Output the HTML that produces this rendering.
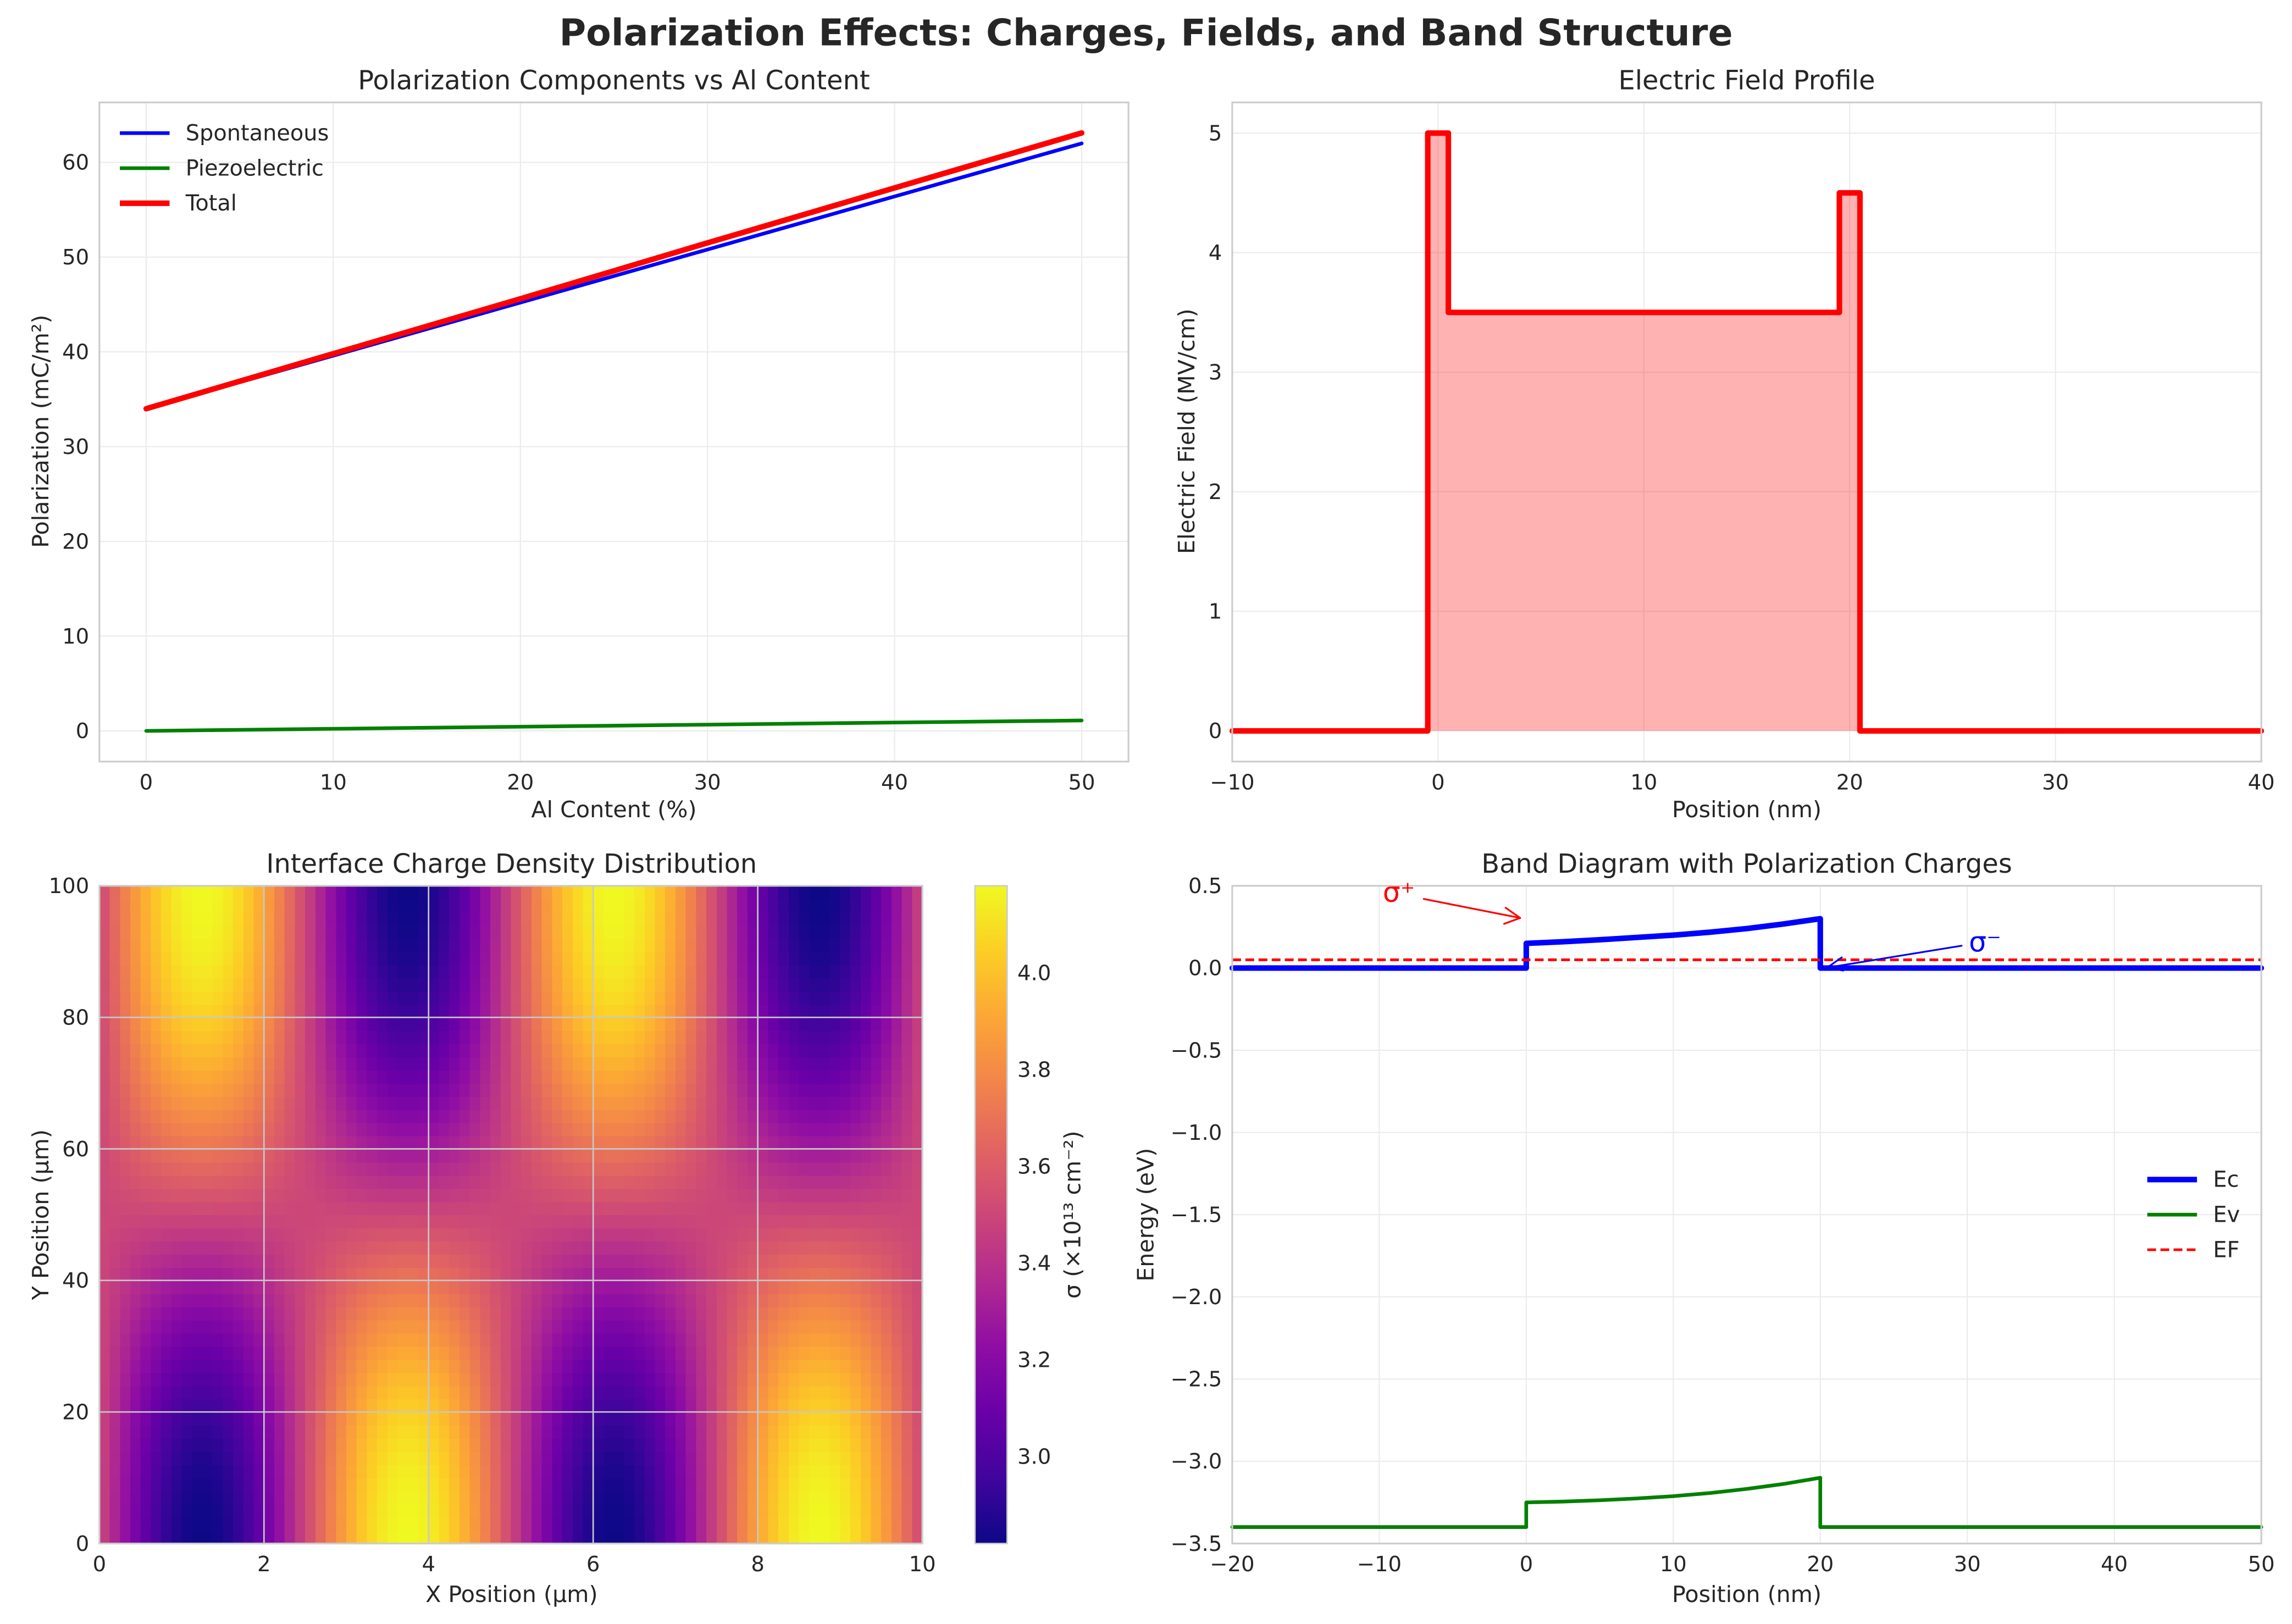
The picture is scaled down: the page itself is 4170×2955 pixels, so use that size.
<!DOCTYPE html>
<html><head><meta charset="utf-8"><style>
html,body{margin:0;padding:0;background:#fff;}
svg{display:block;font-family:"DejaVu Sans","Liberation Sans",sans-serif;}
</style></head><body>
<svg id="fig" width="4170" height="2955" viewBox="0 0 1568 1111" xmlns="http://www.w3.org/2000/svg">
<rect width="1568" height="1111" fill="#fff"/>
<text x="784" y="31" text-anchor="middle" font-size="25" font-weight="bold" fill="#262626">Polarization Effects: Charges, Fields, and Band Structure</text>
</svg>
<script>
// ---- Panel 1 data ----
const alContent = [0, 10, 20, 30, 40, 50];
const spontaneous = [34, 39.6, 45.2, 50.8, 56.4, 62];
const piezo = [0, 0.22, 0.44, 0.66, 0.88, 1.1];
const total = [34, 39.8, 45.6, 51.5, 57.3, 63.1];
const p1XTicks = [0, 10, 20, 30, 40, 50];
const p1YTicks = [0, 10, 20, 30, 40, 50, 60];
// ---- Panel 2 data ----
const fieldPos = [-10, -0.5, -0.5, 0.5, 0.5, 19.5, 19.5, 20.5, 20.5, 40];
const fieldVal = [0, 0, 5, 5, 3.5, 3.5, 4.5, 4.5, 0, 0];
const p2XTicks = [-10, 0, 10, 20, 30, 40];
const p2YTicks = [0, 1, 2, 3, 4, 5];
// ---- Panel 3 data ----
const colWave = [.0785,.2334,.3827,.5225,.6494,.7604,.8526,.9239,.9724,.9969,.9969,.9724,.9239,.8526,.7604,.6494,.5225,.3827,.2334,.0785,
                 -.0785,-.2334,-.3827,-.5225,-.6494,-.7604,-.8526,-.9239,-.9724,-.9969,-.9969,-.9724,-.9239,-.8526,-.7604,-.6494,-.5225,-.3827,-.2334,-.0785,
                 .0785,.2334,.3827,.5225,.6494,.7604,.8526,.9239,.9724,.9969,.9969,.9724,.9239,.8526,.7604,.6494,.5225,.3827,.2334,.0785,
                 -.0785,-.2334,-.3827,-.5225,-.6494,-.7604,-.8526,-.9239,-.9724,-.9969,-.9969,-.9724,-.9239,-.8526,-.7604,-.6494,-.5225,-.3827,-.2334,-.0785];
const rowWave = [-.9995,-.9956,-.9877,-.9759,-.9603,-.9409,-.9178,-.8910,-.8607,-.8271,-.7902,-.7501,-.7071,-.6613,-.6129,-.5621,-.5090,-.4540,-.3971,-.3387,-.2790,-.2181,-.1564,-.0941,-.0314,
                 .0314,.0941,.1564,.2181,.2790,.3387,.3971,.4540,.5090,.5621,.6129,.6613,.7071,.7501,.7902,.8271,.8607,.8910,.9178,.9409,.9603,.9759,.9877,.9956,.9995];
const sigmaMean = [3.5];
const sigmaAmp = [0.68];
const p3XTicks = [0, 2, 4, 6, 8, 10];
const p3YTicks = [0, 20, 40, 60, 80, 100];
const cbTicks = [3.0, 3.2, 3.4, 3.6, 3.8, 4.0];
// ---- Panel 4 data ----
const bandPos = [-20, 0, 0, 2.5, 5, 7.5, 10, 12.5, 15, 17.5, 20, 20, 50];
const ecVal = [0, 0, 0.15, 0.16, 0.172, 0.186, 0.2, 0.218, 0.24, 0.268, 0.30, 0, 0];
const evVal = [-3.4, -3.4, -3.25, -3.245, -3.237, -3.226, -3.212, -3.193, -3.168, -3.138, -3.10, -3.4, -3.4];
const efVal = [0.05];
const p4XTicks = [-20, -10, 0, 10, 20, 30, 40, 50];
const p4YTicks = [0.5, 0, -0.5, -1.0, -1.5, -2.0, -2.5, -3.0, -3.5];

const NS = "http://www.w3.org/2000/svg";
const fig = document.getElementById('fig');
function mk(tag, attrs, parent) {
  const e = document.createElementNS(NS, tag);
  for (const k in attrs) e.setAttribute(k, attrs[k]);
  (parent || fig).appendChild(e);
  return e;
}
function lin(d0, d1, p0, p1) { return v => p0 + (v - d0) * (p1 - p0) / (d1 - d0); }
function fmt(v, dec) { return dec ? v.toFixed(dec) : String(v); }
const TICK = 14.5, LAB = 15.5, TTL = 18, LEG = 15;

function axes(name, box, xs, ys, xt, yt, xdec, ydec, grid) {
  const g = mk('g', {});
  
  
  if (grid) {
    xt.forEach(t => { mk('line', {x1: xs(t), x2: xs(t), y1: box.y0, y2: box.y1, stroke: '#ebebeb', 'stroke-width': 0.8}, g); });
    yt.forEach(t => { mk('line', {x1: box.x0, x2: box.x1, y1: ys(t), y2: ys(t), stroke: '#ebebeb', 'stroke-width': 0.8}, g); });
  }
  xt.forEach(t => {
    const tx = mk('text', {x: xs(t), y: box.y1 + 19, 'text-anchor': 'middle', 'font-size': TICK, fill: '#262626'}, g);
    tx.textContent = fmt(t, xdec).replace('-', '−');
    
    
  });
  yt.forEach(t => {
    const tx = mk('text', {x: box.x0 - 7, y: ys(t) + 5, 'text-anchor': 'end', 'font-size': TICK, fill: '#262626'}, g);
    tx.textContent = fmt(t, ydec).replace('-', '−');
    
    
  });
  return g;
}
function frame(box) {
  const r = mk('rect', {x: box.x0, y: box.y0, width: box.x1 - box.x0, height: box.y1 - box.y0, fill: 'none', stroke: '#cccccc', 'stroke-width': 1.2});
  
  
}
function label(txt, x, y, size, rot, name, color, weight) {
  const t = mk('text', {x: x, y: y, 'text-anchor': 'middle', 'font-size': size, fill: color || '#262626'});
  if (rot) t.setAttribute('transform', 'rotate(-90 ' + x + ' ' + y + ')');
  if (weight) t.setAttribute('font-weight', weight);
  t.textContent = txt;
  
  
  return t;
}
function path(pts, attrs, name) {
  const d = pts.map((p, i) => (i ? 'L' : 'M') + p[0].toFixed(2) + ' ' + p[1].toFixed(2)).join(' ');
  const p = mk('path', Object.assign({d: d, fill: 'none', 'stroke-linejoin': 'round', 'stroke-linecap': 'round'}, attrs));
  
  
  return p;
}

// ===== Panel 1 =====
{
  const box = {x0: 68, x1: 772, y0: 70, y1: 521};
  const xs = lin(0, 50, 100, 740), ys = lin(0, 60, 500, 111);
  axes('polarization-axes', box, xs, ys, p1XTicks, p1YTicks, 0, 0, true);
  path(alContent.map((x, i) => [xs(x), ys(spontaneous[i])]), {stroke: '#0000ff', 'stroke-width': 2.5}, 'spontaneous-line');
  path(alContent.map((x, i) => [xs(x), ys(piezo[i])]), {stroke: '#008000', 'stroke-width': 2.5}, 'piezoelectric-line');
  path(alContent.map((x, i) => [xs(x), ys(total[i])]), {stroke: '#ff0000', 'stroke-width': 3.8}, 'total-line');
  frame(box);
  label('Polarization Components vs Al Content', 420, 61, TTL, false, 'polarization-title');
  label('Al Content (%)', 420, 559, LAB, false, 'x-axis-title');
  label('Polarization (mC/m²)', 33, 295, LAB, true, 'y-axis-title');
  const leg = [['Spontaneous', '#0000ff', 2.5], ['Piezoelectric', '#008000', 2.5], ['Total', '#ff0000', 3.8]];
  leg.forEach((l, i) => {
    const y = 91 + i * 24;
    const ln = mk('line', {x1: 82, x2: 116, y1: y, y2: y, stroke: l[1], 'stroke-width': l[2]});
    
    
    const t = mk('text', {x: 127, y: y + 5, 'font-size': LEG, fill: '#262626'});
    t.textContent = l[0];
    
    
  });
}

// ===== Panel 2 =====
{
  const box = {x0: 843, x1: 1547, y0: 70, y1: 521};
  const xs = lin(-10, 40, 843, 1547), ys = lin(0, 5, 500, 91);
  axes('field-axes', box, xs, ys, p2XTicks, p2YTicks, 0, 0, true);
  const pts = fieldPos.map((x, i) => [xs(x), ys(fieldVal[i])]);
  const fillPts = pts.concat([[xs(40), ys(0)], [xs(-10), ys(0)]]);
  path(fillPts, {fill: '#ff0000', 'fill-opacity': 0.3, stroke: 'none'}, 'field-fill');
  path(pts, {stroke: '#ff0000', 'stroke-width': 3.8}, 'electric-field-line');
  frame(box);
  label('Electric Field Profile', 1195, 61, TTL, false, 'field-title');
  label('Position (nm)', 1195, 559, LAB, false, 'x-axis-title');
  label('Electric Field (MV/cm)', 817, 295, LAB, true, 'y-axis-title');
}

// ===== Panel 3 =====
const plasma = ['#0d0887','#41049d','#6a00a8','#8f0da4','#b12a90','#cc4778','#e16462','#f2844b','#fca636','#fcce25','#f0f921'];
function hex(c) { return [parseInt(c.slice(1,3),16), parseInt(c.slice(3,5),16), parseInt(c.slice(5,7),16)]; }
function cmap(t) {
  t = Math.max(0, Math.min(1, t)) * 10;
  const i = Math.min(9, Math.floor(t)), f = t - i;
  const a = hex(plasma[i]), b = hex(plasma[i + 1]);
  return 'rgb(' + a.map((v, k) => Math.round(v + (b[k] - v) * f)).join(',') + ')';
}
{
  const box = {x0: 68, x1: 631, y0: 606, y1: 1056};
  const xs = lin(0, 10, 68, 631), ys = lin(0, 100, 1056, 606);
  const vmin = sigmaMean[0] - sigmaAmp[0], vmax = sigmaMean[0] + sigmaAmp[0];
  const hm = mk('g', {'shape-rendering': 'crispEdges'});
  
  
  const nc = colWave.length, nr = rowWave.length;
  for (let j = 0; j < nr; j++) {
    for (let i = 0; i < nc; i++) {
      const v = sigmaMean[0] + sigmaAmp[0] * colWave[i] * rowWave[j];
      const x0 = xs(i * 10 / nc), x1 = xs((i + 1) * 10 / nc);
      const y0 = ys((j + 1) * 100 / nr), y1 = ys(j * 100 / nr);
      const c = mk('rect', {x: x0, y: y0, width: x1 - x0 + 0.4, height: y1 - y0 + 0.4, fill: cmap((v - vmin) / (vmax - vmin))}, hm);
      
      
    }
  }
  p3XTicks.forEach(t => { mk('line', {x1: xs(t), x2: xs(t), y1: box.y0, y2: box.y1, stroke: '#c8c8c8', 'stroke-width': 1}); });
  p3YTicks.forEach(t => { mk('line', {x1: box.x0, x2: box.x1, y1: ys(t), y2: ys(t), stroke: '#c8c8c8', 'stroke-width': 1}); });
  axes('heatmap-axes', box, xs, ys, p3XTicks, p3YTicks, 0, 0, false);
  frame(box);
  label('Interface Charge Density Distribution', 350, 597, TTL, false, 'heatmap-title');
  label('X Position (μm)', 350, 1096, LAB, false, 'x-axis-title');
  label('Y Position (μm)', 33, 831, LAB, true, 'y-axis-title');
  const cb = {x0: 667, x1: 689, y0: 606, y1: 1056};
  const cs = lin(vmin, vmax, cb.y1, cb.y0);
  const defs = mk('defs', {});
  const lg = mk('linearGradient', {id: 'cbg', x1: 0, y1: 1, x2: 0, y2: 0}, defs);
  plasma.forEach((c, i) => mk('stop', {offset: i / 10, 'stop-color': c}, lg));
  const cr = mk('rect', {x: cb.x0, y: cb.y0, width: cb.x1 - cb.x0, height: cb.y1 - cb.y0, fill: 'url(#cbg)', stroke: '#cccccc', 'stroke-width': 1});
  
  
  cbTicks.forEach(t => {
    const tx = mk('text', {x: cb.x1 + 7, y: cs(t) + 5, 'font-size': TICK, fill: '#262626'});
    tx.textContent = t.toFixed(1);
    
    
  });
  label('σ (×10¹³ cm⁻²)', 739, 831, LAB, true, 'colorbar-title');
}

// ===== Panel 4 =====
{
  const box = {x0: 843, x1: 1547, y0: 606, y1: 1056};
  const xs = lin(-20, 50, 843, 1547), ys = lin(0.5, -3.5, 606, 1056);
  axes('band-axes', box, xs, ys, p4XTicks, p4YTicks, 0, 1, true);
  path(bandPos.map((x, i) => [xs(x), ys(evVal[i])]), {stroke: '#008000', 'stroke-width': 2.5}, 'ev-line');
  path(bandPos.map((x, i) => [xs(x), ys(ecVal[i])]), {stroke: '#0000ff', 'stroke-width': 3.8}, 'ec-line');
  path([[xs(-20), ys(efVal[0])], [xs(50), ys(efVal[0])]], {stroke: '#ff0000', 'stroke-width': 1.8, 'stroke-dasharray': '6,3', 'stroke-linecap': 'butt'}, 'ef-line');
  frame(box);
  label('Band Diagram with Polarization Charges', 1195, 597, TTL, false, 'band-title');
  label('Position (nm)', 1195, 1096, LAB, false, 'x-axis-title');
  label('Energy (eV)', 789, 831, LAB, true, 'y-axis-title');
  label('σ⁺', 957, 617, 19, false, 'sigma-plus-annotation', '#ff0000');
  path([[974, 615], [1040, 628]], {stroke: '#ff0000', 'stroke-width': 1.2}, 'sigma-plus-arrow');
  path([[1030, 621], [1040, 628], [1029, 632]], {stroke: '#ff0000', 'stroke-width': 1.2}, 'sigma-plus-arrowhead');
  label('σ⁻', 1358, 651, 19, false, 'sigma-minus-annotation', '#0000ff');
  path([[1342, 647], [1250, 662]], {stroke: '#0000ff', 'stroke-width': 1.2}, 'sigma-minus-arrow');
  path([[1260, 655], [1250, 662], [1261, 664]], {stroke: '#0000ff', 'stroke-width': 1.2}, 'sigma-minus-arrowhead');
  const leg = [['Ec', '#0000ff', 3.8, null], ['Ev', '#008000', 2.5, null], ['EF', '#ff0000', 1.8, '6,3']];
  leg.forEach((l, i) => {
    const y = 807 + i * 24;
    const ln = mk('line', {x1: 1469, x2: 1503, y1: y, y2: y, stroke: l[1], 'stroke-width': l[2]});
    if (l[3]) ln.setAttribute('stroke-dasharray', l[3]);
    
    
    const t = mk('text', {x: 1514, y: y + 5, 'font-size': LEG, fill: '#262626'});
    t.textContent = l[0];
    
    
  });
}
</script>
</body></html>
